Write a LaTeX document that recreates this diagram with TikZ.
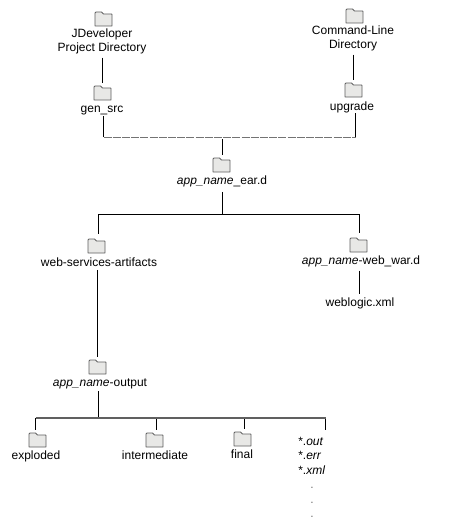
\documentclass[tikz,border=0pt]{standalone}
\usepackage{fontspec}
\setmainfont{Liberation Sans}
\definecolor{folderfill}{HTML}{E8E8E6}
\definecolor{folderedge}{HTML}{5E5E5E}
\definecolor{busgray}{HTML}{606060}
\tikzset{
  x=0.75pt,y=-0.75pt,
  txt/.style={inner sep=0pt,anchor=base,font=\fontsize{9}{11}\selectfont,text height=6.75pt,text depth=2.25pt},
  multi/.style={inner sep=0pt,anchor=north,font=\fontsize{9}{10.5}\selectfont,align=center},
  folderbox/.style={inner sep=0pt,minimum width=12.75pt,minimum height=10.5pt,anchor=north west},
  folderline/.style={draw=folderedge,fill=folderfill,line width=0.6pt,line join=round},
  conn/.style={draw=black,line width=0.75pt},
  gapped/.style={shorten >=2.25pt},
  dashline/.style={draw=black!55,line width=0.75pt,dash pattern=on 6pt off 0.9pt},
  busline/.style={draw=busgray,line width=1.6pt},
  dotmark/.style={inner sep=0pt,anchor=base,font=\fontsize{9}{11}\selectfont,text=black!55}
}
\newcommand{\folderat}[3]{%
  \node[folderbox] (#1) at (#2,#3) {};
  \draw[folderline] (#2,#3+14) -- (#2,#3+1) -- (#2+1,#3) -- (#2+6.5,#3) -- (#2+8.5,#3+2) -- (#2+16.5,#3+2) -- (#2+17,#3+2.5) -- (#2+17,#3+14) -- cycle;
}
\begin{document}
\begin{tikzpicture}
\useasboundingbox (0,0) rectangle (450,528);
% folders
\folderat{fjd}{95}{12}
\folderat{fgs}{94}{86}
\folderat{fcl}{346}{9}
\folderat{fug}{345}{83}
\folderat{fear}{213}{158}
\folderat{fws}{88}{239}
\folderat{fwar}{350}{238}
\folderat{fout}{89}{360}
\folderat{fexp}{29}{433}
\folderat{fint}{146}{433}
\folderat{ffin}{234}{432}
% labels
\node[multi] (ljd) at (102,29) {JDeveloper\\Project Directory};
\node[multi] (lcl) at (353,26) {Command-Line\\Directory};
\node[txt] (lgs) at (102,113) {gen\_src};
\node[txt] (lug) at (352,110) {upgrade};
\node[txt] (lear) at (222,184) {\textit{app\_name}\_ear.d};
\node[txt] (lws) at (99,266) {web-services-artifacts};
\node[txt] (lwar) at (361,264) {\textit{app\_name}-web\_war.d};
\node[txt] (lwl) at (360,306) {weblogic.xml};
\node[txt] (lout) at (100,386) {\textit{app\_name}-output};
\node[txt] (lexp) at (36,459) {exploded};
\node[txt] (lint) at (155,459) {intermediate};
\node[txt] (lfin) at (242,458) {final};
\node[txt,anchor=base west] (lo) at (298,445) {*.\textit{out}};
\node[txt,anchor=base west] (le) at (298,459.5) {*.\textit{err}};
\node[txt,anchor=base west] (lx) at (298,474) {*.\textit{xml}};
\node[dotmark] (d1) at (312,488) {.};
\node[dotmark] (d2) at (312,503) {.};
\node[dotmark] (d3) at (312,517) {.};
% junctions
\coordinate (jl) at (103.5,137);
\coordinate (jm) at (222,137);
\coordinate (jr) at (355.5,137);
\coordinate (kl) at (98.5,214);
\coordinate (km) at (222,214);
\coordinate (kr) at (359.5,214);
\coordinate (bl) at (35.5,418);
\coordinate (bm) at (98.8,418);
\coordinate (bi) at (156.5,418);
\coordinate (bf) at (244.5,418);
\coordinate (br) at (325.5,418);
% connectors
\draw[conn,gapped,shorten <=2.25pt] (ljd.south) -- (ljd.south |- fgs.north);
\draw[conn,gapped,shorten <=2.25pt] (lcl.south) -- (lcl.south |- fug.north);
\draw[conn] (jl |- lgs.south) -- (jl);
\draw[conn] (jr |- lug.south) -- (jr);
\draw[dashline] (jl) -- (jr);
\draw[conn,gapped,shorten <=1.5pt] (jm) -- (jm |- fear.north);
\draw[conn,shorten <=3.5pt] (km |- lear.south) -- (km);
\draw[conn] (kl) -- (kr);
\draw[conn,gapped,shorten >=3.5pt] (kl) -- (kl |- fws.north);
\draw[conn,gapped,shorten >=3.5pt] (kr) -- (kr |- fwar.north);
\draw[conn,shorten <=2.5pt,shorten >=2pt] (kr |- lwar.south) -- (kr |- lwl.north);
\draw[conn,gapped,shorten <=.5pt] ([xshift=-1.1pt]lws.south) -- ([xshift=-1.1pt]lws.south |- fout.north);
\draw[conn,line width=1pt,shorten <=1.5pt] (bm |- lout.south) -- (bm);
\draw[conn,gapped] (bl) -- (bl |- fexp.north);
\draw[conn,gapped] (bi) -- (bi |- fint.north);
\draw[conn,gapped] (bf) -- (bf |- ffin.north);
\draw[conn] (br) -- ++(0,12);
\draw[busline] (bl) -- (br);
\end{tikzpicture}
\end{document}
